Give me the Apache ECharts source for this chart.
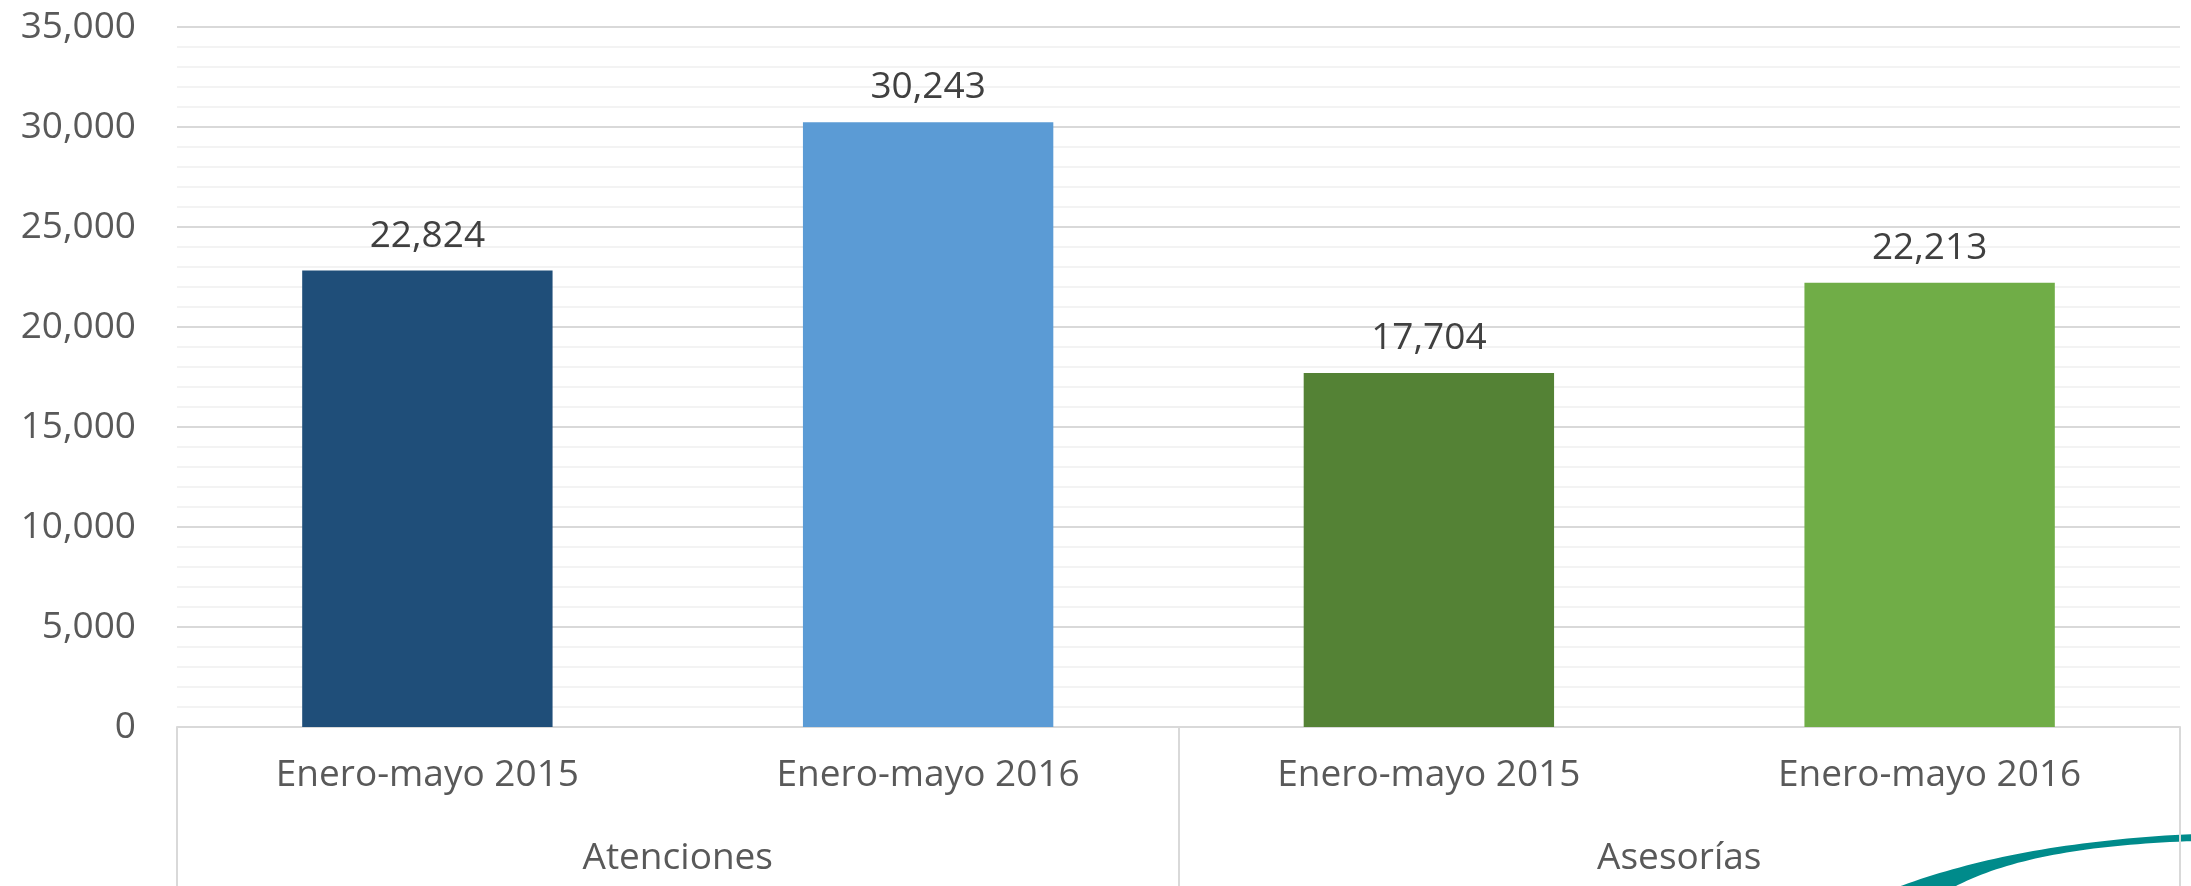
<!DOCTYPE html>
<html>
<head>
<meta charset="utf-8">
<script src="https://cdn.jsdelivr.net/npm/echarts@6/dist/echarts.min.js"></script>
<style>
  html, body { margin: 0; padding: 0; background: #fff; }
  #chart { width: 2191px; height: 886px; }
</style>
</head>
<body>
<div id="chart"></div>
<script>
// datos del gráfico
const periodos = ['Enero-mayo 2015', 'Enero-mayo 2016', 'Enero-mayo 2015', 'Enero-mayo 2016'];
const grupos = ['Atenciones', 'Asesorías'];
const valores = [22824, 30243, 17704, 22213];
const colores = ['#1F4E79', '#5B9BD5', '#548235', '#70AD47'];
const ticksY = [0, 5000, 10000, 15000, 20000, 25000, 30000, 35000];

const fuente = '"Open Sans", sans-serif';
const fmt = v => Number(v).toLocaleString('en-US');

// curva decorativa (logo) abajo a la derecha
function bezier(p0, p1, p2, p3, n) {
  const pts = [];
  for (let i = 0; i <= n; i++) {
    const t = i / n, u = 1 - t;
    pts.push([
      u * u * u * p0[0] + 3 * u * u * t * p1[0] + 3 * u * t * t * p2[0] + t * t * t * p3[0],
      u * u * u * p0[1] + 3 * u * u * t * p1[1] + 3 * u * t * t * p2[1] + t * t * t * p3[1]
    ]);
  }
  return pts;
}
const swoosh = bezier([1885, 892], [1960, 862], [2060, 840], [2195, 834], 40)
  .concat(bezier([2195, 841], [2080, 845], [2000, 860], [1945, 892], 40));

const chart = echarts.init(document.getElementById('chart'));

const option = {
  animation: false,
  grid: { left: 177, right: 11, top: 27, bottom: 159 },
  xAxis: [
    {
      type: 'category',
      data: periodos,
      axisLine: { lineStyle: { color: '#d9d9d9', width: 2 } },
      axisTick: { show: false },
      axisLabel: { color: '#595959', fontSize: 37, fontFamily: fuente, margin: 30 }
    },
    {
      type: 'category',
      data: grupos,
      position: 'bottom',
      axisLine: { show: false },
      axisTick: { show: true, length: 170, lineStyle: { color: '#d9d9d9', width: 2 } },
      axisLabel: { color: '#595959', fontSize: 37, fontFamily: fuente, margin: 113 }
    }
  ],
  yAxis: {
    type: 'value',
    min: ticksY[0],
    max: ticksY[ticksY.length - 1],
    interval: ticksY[1] - ticksY[0],
    axisLine: { show: false },
    axisTick: { show: false },
    axisLabel: { color: '#595959', fontSize: 37, fontFamily: fuente, margin: 41, formatter: fmt },
    splitLine: { lineStyle: { color: '#d9d9d9', width: 2 } },
    minorTick: { show: false, splitNumber: 5 },
    minorSplitLine: { show: true, lineStyle: { color: '#efefef', width: 1.5 } }
  },
  series: [{
    type: 'bar',
    xAxisIndex: 0,
    barWidth: '50%',
    data: valores.map((v, i) => ({ value: v, itemStyle: { color: colores[i] } })),
    label: {
      show: true,
      position: 'top',
      distance: 16,
      color: '#404040',
      fontSize: 37,
      fontFamily: fuente,
      formatter: p => fmt(p.value)
    }
  }],
  graphic: [{
    type: 'polygon',
    shape: { points: swoosh },
    style: { fill: '#008B8B' }
  }]
};

chart.setOption(option);
</script>
</body>
</html>
